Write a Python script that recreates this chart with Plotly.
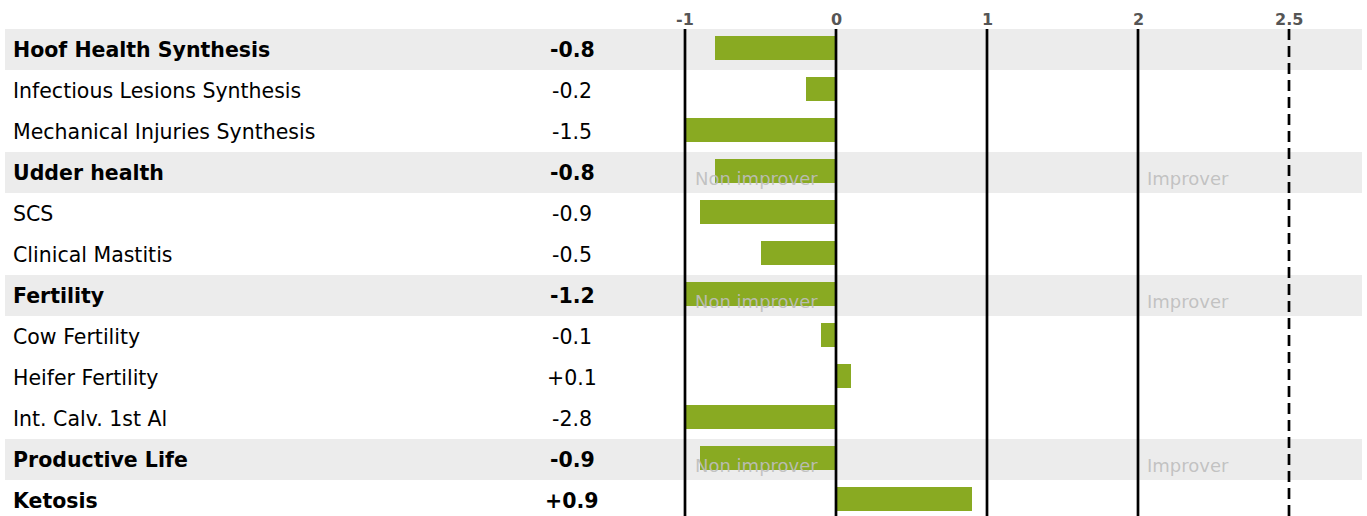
import numpy as np
import plotly.graph_objects as go

labels = ["Hoof Health Synthesis", "Infectious Lesions Synthesis", "Mechanical Injuries Synthesis",
          "Udder health", "SCS", "Clinical Mastitis", "Fertility", "Cow Fertility",
          "Heifer Fertility", "Int. Calv. 1st Al", "Productive Life", "Ketosis"]
values = [-0.8, -0.2, -1.5, -0.8, -0.9, -0.5, -1.2, -0.1, 0.1, -2.8, -0.9, 0.9]
is_bold = [True, False, False, True, False, False, True, False, False, False, True, True]
is_banded = [True, False, False, True, False, False, True, False, False, False, True, False]
hint_rows = ["Udder health", "Fertility", "Productive Life"]
# scale positions of the reference lines and their printed labels
tick_pos = [-1, 0, 1, 2, 3]
tick_text = ["-1", "0", "1", "2", "2.5"]
x_min = -1

W, H = 1367, 516
ML, MR, MT = 5, 5, 29
row_px = 41
n = len(labels)
pos = np.arange(n)
y_bottom = -0.5 + (H - MT) / row_px
px_per_unit = 151
zero_px = 836
xr = [(ML - zero_px) / px_per_unit, (W - MR - zero_px) / px_per_unit]
pw = W - ML - MR
bar_lift = 1.5 / row_px

def xp(px):
    return (px - ML) / pw

shown = np.maximum(values, x_min)
FONT = "DejaVu Sans"

fig = go.Figure()
fig.add_trace(go.Bar(x=shown, y=pos - bar_lift, orientation="h", base=0,
                     marker=dict(color="#89aa22", line=dict(width=0)),
                     width=0.585, hoverinfo="skip"))

shapes = []
for i, b in enumerate(is_banded):
    if b:
        shapes.append(dict(type="rect", xref="paper", yref="y", x0=0, x1=1,
                           y0=i - 0.5, y1=i + 0.5, fillcolor="#ececec",
                           line=dict(width=0), layer="below"))
for v, t in zip(tick_pos, tick_text):
    shapes.append(dict(type="line", xref="x", yref="y", x0=v, x1=v,
                       y0=-0.5, y1=y_bottom + 1,
                       line=dict(color="black", width=2.7,
                                 dash="11px,6px" if t == "2.5" else "solid"),
                       layer="above"))

ann = []
for i, (lab, v, g) in enumerate(zip(labels, values, is_bold)):
    w = "bold" if g else "normal"
    ann.append(dict(xref="paper", yref="y", x=xp(11), y=i, text=lab, showarrow=False,
                    xanchor="left", yanchor="middle",
                    font=dict(family=FONT, size=20.5, color="black", weight=w)))
    ann.append(dict(xref="paper", yref="y", x=xp(572), y=i,
                    text=f"{v:+.1f}" if v > 0 else f"{v:.1f}",
                    showarrow=False, xanchor="center", yanchor="middle",
                    font=dict(family=FONT, size=20.5, color="black", weight=w)))
    if lab in hint_rows:
        ann.append(dict(xref="paper", yref="y", x=xp(693), y=i, text="Non improver",
                        showarrow=False, xanchor="left", yanchor="middle", yshift=-6,
                        font=dict(family=FONT, size=18, color="rgba(190,190,190,0.92)")))
        ann.append(dict(xref="paper", yref="y", x=xp(1145), y=i, text="Improver",
                        showarrow=False, xanchor="left", yanchor="middle", yshift=-6,
                        font=dict(family=FONT, size=18, color="rgba(190,190,190,0.92)")))
for v, t in zip(tick_pos, tick_text):
    ann.append(dict(xref="x", yref="paper", x=v, y=1, yshift=10, text=t, showarrow=False,
                    xanchor="center", yanchor="middle",
                    font=dict(family=FONT, size=16, color="#555555", weight="bold")))

fig.update_layout(
    width=W, height=H, margin=dict(l=ML, r=MR, t=MT, b=0, pad=0),
    paper_bgcolor="white", plot_bgcolor="rgba(0,0,0,0)",
    showlegend=False, shapes=shapes, annotations=ann, bargap=0,
    xaxis=dict(range=xr, showgrid=False, zeroline=False, showticklabels=False,
               ticks="", showline=False, fixedrange=True),
    yaxis=dict(range=[y_bottom, -0.5], showgrid=False, zeroline=False,
               showticklabels=False, ticks="", showline=False, fixedrange=True),
)
fig.write_html("out.html", config={"displayModeBar": False},
               post_script="document.body.style.margin='0px';document.body.style.overflow='hidden';")
